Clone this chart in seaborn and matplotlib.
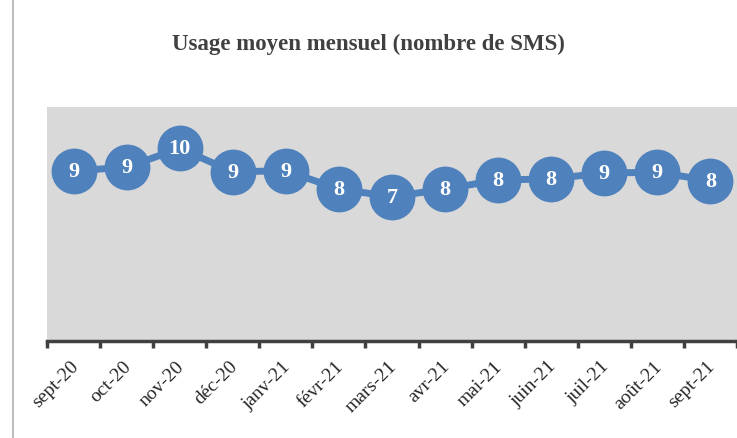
import matplotlib
matplotlib.use('Agg')
import matplotlib.pyplot as plt
import matplotlib.transforms as mtransforms
import seaborn as sns
import pandas as pd
import numpy as np
from matplotlib.lines import Line2D
from matplotlib.ticker import FixedLocator

months = ['sept-20', 'oct-20', 'nov-20', 'déc-20', 'janv-21', 'févr-21', 'mars-21',
          'avr-21', 'mai-21', 'juin-21', 'juil-21', 'août-21', 'sept-21']
sms = [8.73, 8.91, 9.88, 8.68, 8.73, 7.79, 7.40, 7.79, 8.26, 8.31, 8.62, 8.65, 8.22]

df = pd.DataFrame({'Mois': months, 'SMS': sms})

sns.set_style('white')
plt.rcParams['font.family'] = ['Liberation Serif', 'DejaVu Serif']

fig = plt.figure(figsize=(7.37, 4.39), dpi=100)
ax = fig.add_axes([47 / 737, 1 - 342 / 439, 690 / 737, 234 / 439])
ax.set_facecolor('#D9D9D9')

blue = '#4F81BD'
sns.lineplot(data=df, x='Mois', y='SMS', ax=ax, color=blue, linewidth=5,
             marker='o', markersize=33, markeredgecolor=blue, markeredgewidth=0,
             sort=False)

for i, v in enumerate(df['SMS']):
    ax.text(i, v, f'{round(v):d}', ha='center', va='center', color='white',
            fontsize=16, fontweight='bold')

ax.set_ylim(0, 12)
ax.set_xlim(-0.5, len(months) - 0.5)
ax.set_yticks([])
ax.set_xlabel('')
ax.set_ylabel('')

ax.set_xticks(range(len(months)))
ax.set_xticklabels(months, rotation=45, ha='right', va='center',
                   rotation_mode='anchor', fontsize=14, color='#262626')
ax.tick_params(axis='x', which='major', length=0, pad=16)
shift = mtransforms.ScaledTranslation(2 / 100, 0, fig.dpi_scale_trans)
for lab in ax.get_xticklabels():
    lab.set_transform(lab.get_transform() + shift)
ax.xaxis.set_minor_locator(FixedLocator(np.arange(-0.5, len(months), 1.0)))
ax.tick_params(axis='x', which='minor', length=5, width=2.5, color='#404040',
               direction='out', bottom=True)

for s in ['left', 'top', 'right']:
    ax.spines[s].set_visible(False)
ax.spines['bottom'].set_color('#404040')
ax.spines['bottom'].set_linewidth(2.5)

fig.text(368 / 737, 1 - 44 / 439, 'Usage moyen mensuel (nombre de SMS)',
         ha='center', va='center', fontsize=16.5, fontweight='bold', color='#404040')

fig.add_artist(Line2D([13 / 737, 13 / 737], [0, 1], transform=fig.transFigure,
                      color='#BFBFBF', linewidth=1.5))

fig.savefig('out.png', dpi=100)
